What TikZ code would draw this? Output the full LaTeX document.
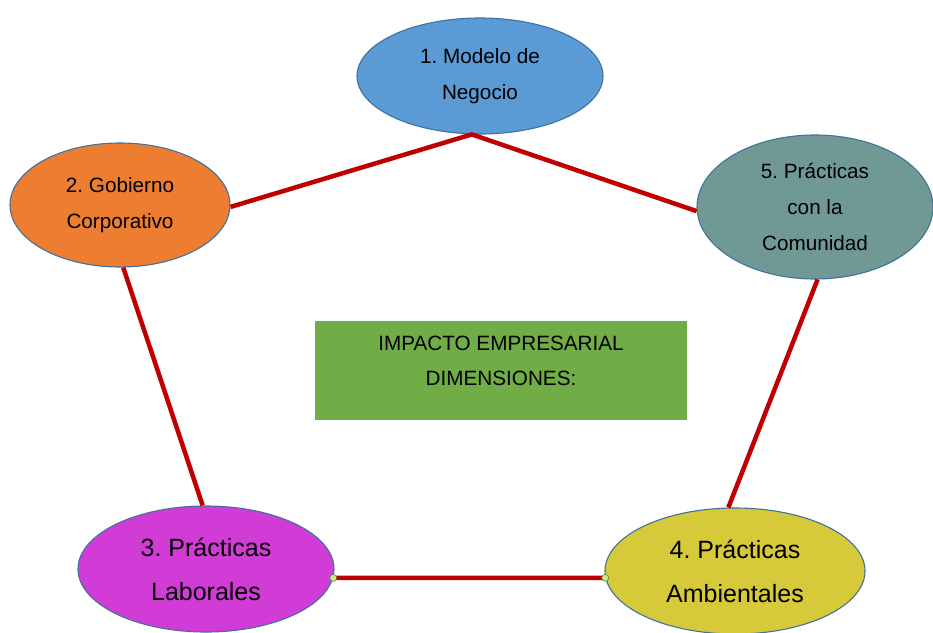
\documentclass[tikz,border=0pt]{standalone}
\usepackage{fontspec}
\setmainfont{Liberation Sans}
\usetikzlibrary{shapes.geometric}
\frenchspacing
\definecolor{cblue}{RGB}{91,155,213}
\definecolor{corange}{RGB}{237,125,49}
\definecolor{cteal}{RGB}{112,153,150}
\definecolor{cmagenta}{RGB}{210,60,214}
\definecolor{cyellow}{RGB}{214,201,58}
\definecolor{cgreen}{RGB}{112,173,71}
\definecolor{cedge}{RGB}{65,113,156}
\definecolor{cred}{RGB}{192,0,0}
\definecolor{cdot}{RGB}{200,232,140}
\tikzset{
  dim/.style={shape=ellipse, draw=cedge, line width=1.1pt, inner sep=0pt, align=center,
    font=\fontsize{20.7}{36}\selectfont},
  dimbig/.style={dim, font=\fontsize{25}{44}\selectfont},
  link/.style={draw=cred, line width=4.5pt},
  jdot/.style={circle, fill=cdot, draw=cgreen!70!black, line width=0.5pt, inner sep=0pt, minimum size=7pt}
}
\begin{document}
\begin{tikzpicture}[x=1pt,y=-1pt]
\useasboundingbox[fill=white] (0,0) rectangle (933,632);
\node[shape=rectangle, fill=cgreen, minimum width=372pt, minimum height=99pt, inner sep=0pt] (box) at (501,370.5) {};
\node[align=center, font=\fontsize{20.7}{35}\selectfont, inner sep=0pt] (boxtext) at (501,361) {IMPACTO EMPRESARIAL\\DIMENSIONES:};

\node[dim, fill=cblue, minimum width=246pt, minimum height=116pt] (m1) at (480,76) {1. Modelo de\\Negocio};
\node[dim, fill=corange, minimum width=220pt, minimum height=124pt] (m2) at (120,205) {2. Gobierno\\Corporativo};
\node[dimbig, fill=cmagenta, minimum width=256pt, minimum height=126pt] (m3) at (206,569) {3. Prácticas\\Laborales};
\node[dimbig, fill=cyellow, minimum width=260pt, minimum height=126pt] (m4) at (735,571) {4. Prácticas\\Ambientales};
\node[dim, fill=cteal, minimum width=236pt, minimum height=144pt] (m5) at (815,207) {5. Prácticas\\con la\\Comunidad};

\draw[link] (m2.359.5) -- (m1.262.3) -- (m5.182.4);
\draw[link] (m2.273.6) -- (m3.93.7);
\draw[link] (m5.272.4) -- (m4.96.3);
\draw[link] (m3.356.5) -- (m4.183);
\node[jdot] (d1) at (m3.356.5) {};
\node[jdot] (d2) at (m4.183) {};
\end{tikzpicture}
\end{document}
